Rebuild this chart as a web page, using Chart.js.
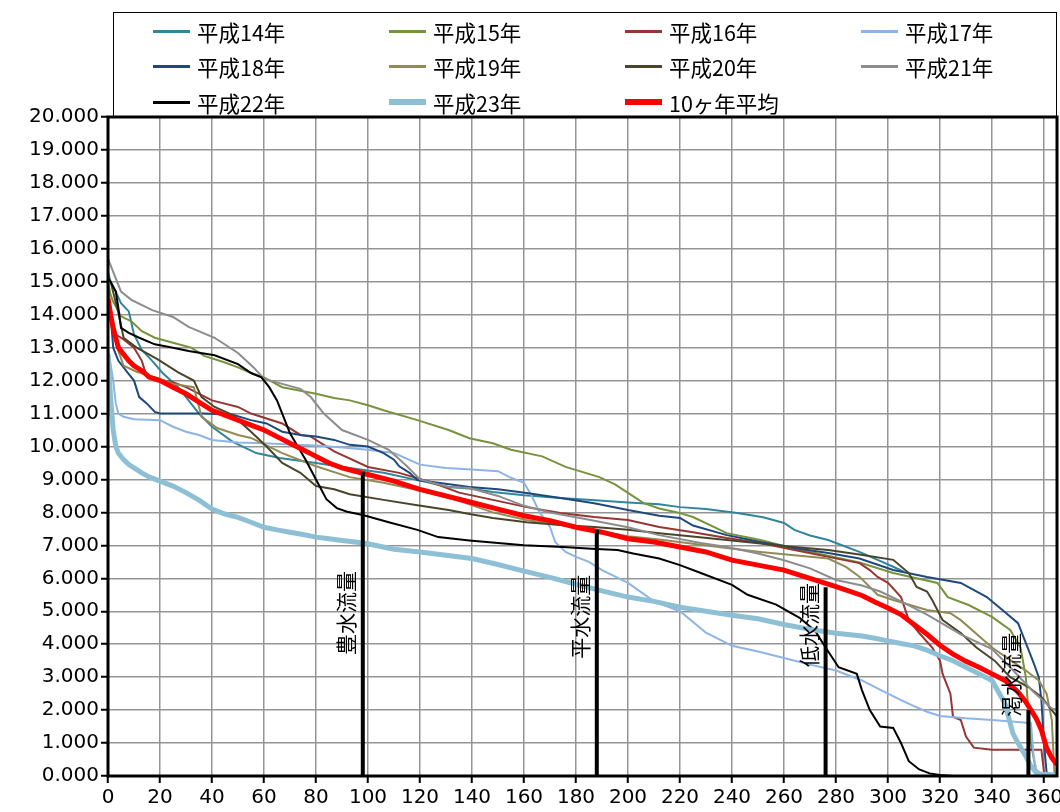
<!DOCTYPE html>
<html lang="ja">
<head>
<meta charset="utf-8">
<title>流況曲線</title>
<script src="https://cdn.jsdelivr.net/npm/chart.js@4.4.1/dist/chart.umd.min.js"></script>
<style>
  html, body { margin: 0; padding: 0; background: #fff; }
  #wrap { position: relative; width: 1060px; height: 812px; }
  #legend {
    position: absolute; left: 113px; top: 12px; width: 944px; height: 106px;
    border: 1px solid #000; border-bottom: none; box-sizing: border-box;
  }
  .item {
    position: absolute; height: 24px; display: flex; align-items: center;
    font-family: "Noto Sans CJK JP", sans-serif; font-size: 21.5px; color: #000; white-space: nowrap;
  }
  .item .swatch { display: inline-block; width: 37px; margin-right: 7px; }
</style>
</head>
<body>
<div id="wrap">
  <canvas id="chart" width="1060" height="812"></canvas>
  <div id="legend"></div>
</div>
<script>
// 流況曲線（日数 → 流量）
// 各系列は [日数, 流量] の組

const h14 = [[0,15.3],[1,15.0],[3,14.7],[5,14.35],[8,14.1],[10,13.4],[13,12.93],[17,12.6],[21,12.23],[27,11.8],[30,11.5],[35,11.0],[40,10.6],[48,10.14],[57,9.8],[66,9.65],[80,9.5],[97,9.3],[106,9.2],[119,8.98],[131,8.77],[140,8.72],[148,8.62],[160,8.52],[174,8.44],[186,8.38],[200,8.3],[212,8.25],[220,8.16],[230,8.1],[242,7.98],[252,7.85],[260,7.68],[264,7.47],[270,7.3],[277,7.16],[289,6.8],[296,6.56],[302,6.35],[306,6.2]];

const h15 = [[0,15.0],[1,14.6],[2,14.4],[5,13.95],[9,13.8],[13,13.5],[18,13.3],[25,13.15],[32,13.0],[37,12.75],[45,12.55],[50,12.4],[55,12.23],[60,12.1],[67,11.8],[80,11.6],[87,11.47],[93,11.4],[100,11.25],[106,11.1],[119,10.8],[131,10.5],[139,10.25],[148,10.1],[155,9.9],[167,9.7],[176,9.38],[189,9.07],[195,8.85],[200,8.59],[206,8.28],[212,8.12],[219,8.0],[225,7.86],[238,7.37],[251,7.16],[263,6.92],[276,6.7],[289,6.48],[302,6.16],[311,6.0],[319,5.86],[323,5.43],[331,5.19],[340,4.83],[347,4.43],[351,3.9],[353,3.0],[354,2.0],[355,1.0],[357,0.1],[359,0.02],[365,0.02]];

const h16 = [[0,14.4],[1,14.0],[3,13.4],[6,13.25],[10,13.0],[13,12.6],[15,12.1],[25,11.95],[30,11.8],[40,11.4],[50,11.2],[55,11.0],[67,10.7],[74,10.35],[78,10.3],[87,9.85],[100,9.38],[112,9.2],[125,8.9],[135,8.6],[148,8.38],[161,8.16],[174,7.98],[187,7.86],[200,7.77],[212,7.56],[225,7.4],[238,7.22],[251,7.07],[264,6.86],[277,6.65],[289,6.46],[293,6.25],[296,6.04],[300,5.86],[305,5.43],[308,4.73],[312,4.34],[317,3.9],[320,3.5],[321,3.1],[324,2.5],[325,1.8],[328,1.7],[330,1.2],[333,0.86],[340,0.8],[359,0.8],[360,0.1],[362,0.02],[365,0.02]];

const h17 = [[0,13.0],[1,12.5],[2,12.0],[3,11.3],[4,11.0],[6,10.9],[10,10.83],[20,10.8],[25,10.6],[30,10.45],[35,10.35],[40,10.2],[50,10.12],[60,10.1],[70,10.06],[80,10.03],[90,9.97],[100,9.9],[110,9.8],[120,9.45],[130,9.35],[140,9.3],[150,9.25],[155,9.05],[160,8.9],[163,8.5],[166,8.0],[170,7.56],[172,7.1],[176,6.8],[180,6.65],[185,6.5],[190,6.25],[200,5.86],[210,5.3],[220,5.0],[230,4.35],[240,3.95],[250,3.78],[260,3.58],[270,3.38],[280,3.2],[290,2.9],[295,2.7],[300,2.5],[305,2.3],[310,2.12],[315,1.95],[320,1.82],[330,1.75],[340,1.7],[350,1.64],[355,1.6],[356,0.6],[357,0.2],[359,0.05],[365,0.02]];

const h18 = [[0,14.8],[1,14.0],[2,13.0],[4,12.6],[8,12.2],[10,12.0],[12,11.5],[15,11.3],[18,11.05],[20,11.0],[37,11.0],[48,10.96],[55,10.8],[61,10.7],[67,10.45],[74,10.35],[80,10.3],[87,10.2],[93,10.05],[100,10.0],[106,9.8],[110,9.6],[112,9.4],[116,9.2],[119,8.98],[127,8.9],[139,8.77],[150,8.7],[161,8.59],[174,8.44],[187,8.28],[200,8.07],[212,7.9],[220,7.83],[225,7.6],[238,7.31],[251,7.1],[264,6.92],[277,6.77],[289,6.6],[302,6.25],[315,6.04],[328,5.86],[338,5.43],[344,5.04],[350,4.64],[353,4.04],[356,3.43],[358,3.0],[359,2.3],[360,1.0],[361,0.1],[363,0.02],[365,0.02]];

const h19 = [[0,14.6],[1,14.2],[3,13.2],[4,12.9],[6,12.45],[11,12.27],[18,12.1],[25,11.9],[33,11.8],[36,10.9],[42,10.56],[50,10.35],[55,10.26],[67,9.8],[80,9.4],[93,9.07],[106,8.9],[119,8.68],[135,8.35],[148,8.0],[161,7.77],[174,7.62],[187,7.47],[200,7.28],[212,7.18],[225,7.05],[238,6.92],[251,6.8],[264,6.7],[277,6.6],[284,6.34],[289,6.05],[296,5.5],[302,5.34],[315,5.04],[324,4.94],[328,4.73],[340,3.9],[353,3.2],[358,2.9],[361,2.5],[363,1.7],[364,0.1],[365,0.05]];

const h20 = [[0,15.1],[1,15.0],[4,14.05],[6,13.3],[11,13.0],[19,12.65],[27,12.25],[33,12.0],[36,11.5],[41,11.2],[48,10.95],[55,10.45],[61,10.0],[67,9.5],[74,9.2],[80,8.8],[87,8.7],[93,8.55],[106,8.38],[119,8.22],[131,8.07],[139,7.95],[148,7.83],[161,7.7],[174,7.62],[187,7.56],[200,7.47],[212,7.37],[220,7.31],[238,7.16],[264,6.95],[277,6.86],[289,6.72],[302,6.56],[308,6.16],[311,5.74],[315,5.6],[317,5.34],[321,4.73],[328,4.34],[334,3.9],[341,3.5],[347,3.0],[354,2.7],[359,2.4],[364,1.9],[365,1.8]];

const h21 = [[0,15.7],[1,15.5],[3,15.1],[5,14.7],[9,14.45],[17,14.14],[25,13.93],[31,13.63],[41,13.3],[50,12.84],[56,12.4],[60,12.05],[67,11.9],[74,11.75],[78,11.5],[83,11.0],[90,10.5],[100,10.2],[108,9.9],[115,9.4],[120,9.0],[131,8.77],[139,8.74],[150,8.5],[160,8.2],[170,8.0],[180,7.85],[190,7.7],[200,7.55],[212,7.31],[228,7.07],[238,6.95],[250,6.75],[260,6.55],[270,6.3],[280,5.95],[290,5.78],[297,5.6],[305,5.3],[315,4.9],[328,4.3],[340,3.85],[347,3.3],[356,2.55],[363,2.05],[365,2.0]];

const h22 = [[0,15.1],[1,15.0],[3,14.7],[4,14.2],[5,13.6],[8,13.45],[12,13.3],[18,13.1],[25,13.0],[31,12.9],[41,12.77],[50,12.5],[55,12.23],[59,12.1],[62,11.8],[65,11.4],[68,10.8],[70,10.4],[73,10.0],[76,9.6],[80,9.0],[84,8.4],[88,8.13],[92,8.02],[98,7.92],[108,7.7],[119,7.47],[127,7.25],[139,7.15],[150,7.07],[160,7.0],[175,6.95],[186,6.9],[196,6.86],[202,6.75],[212,6.6],[220,6.4],[228,6.16],[240,5.8],[246,5.5],[257,5.2],[266,4.8],[272,4.4],[276,3.9],[281,3.3],[288,3.1],[290,2.6],[293,2.0],[297,1.5],[302,1.46],[305,1.0],[308,0.45],[312,0.2],[316,0.08],[320,0.03],[325,0],[365,0]];

const h23 = [[0,12.8],[1,11.5],[2,10.5],[3,10.0],[4,9.8],[6,9.6],[8,9.45],[10,9.35],[13,9.2],[16,9.07],[20,8.95],[25,8.8],[30,8.6],[35,8.37],[40,8.1],[45,7.95],[50,7.85],[55,7.7],[60,7.55],[65,7.47],[70,7.4],[75,7.33],[80,7.25],[85,7.2],[90,7.15],[95,7.1],[100,7.05],[110,6.88],[120,6.8],[130,6.7],[140,6.6],[150,6.42],[160,6.22],[170,6.03],[180,5.82],[190,5.62],[200,5.43],[210,5.3],[220,5.12],[230,5.0],[240,4.88],[250,4.77],[260,4.6],[270,4.45],[280,4.33],[290,4.25],[295,4.18],[300,4.1],[305,4.02],[310,3.95],[315,3.82],[320,3.65],[325,3.5],[330,3.3],[335,3.1],[340,2.9],[345,2.2],[348,1.3],[350,1.0],[353,0.6],[355,0.3],[357,0.1],[359,0.05],[365,0.03]];

const avg10 = [[0,14.5],[1,14.0],[2,13.6],[3,13.3],[4,13.0],[6,12.8],[8,12.6],[10,12.45],[13,12.3],[16,12.1],[20,12.0],[25,11.8],[30,11.6],[35,11.35],[40,11.1],[45,10.95],[50,10.8],[55,10.65],[60,10.5],[65,10.3],[70,10.1],[75,9.9],[80,9.7],[85,9.5],[90,9.35],[95,9.25],[100,9.15],[110,8.95],[120,8.7],[130,8.5],[140,8.3],[150,8.1],[160,7.9],[170,7.75],[180,7.55],[190,7.4],[200,7.2],[210,7.1],[220,6.95],[230,6.8],[240,6.55],[250,6.4],[260,6.25],[270,6.0],[280,5.75],[290,5.48],[295,5.28],[300,5.1],[305,4.9],[310,4.6],[315,4.3],[320,3.97],[325,3.7],[330,3.48],[335,3.3],[340,3.1],[345,2.9],[350,2.55],[353,2.25],[355,2.0],[357,1.75],[359,1.4],[361,0.85],[363,0.55],[365,0.35]];

const seriesNames = ['平成14年', '平成15年', '平成16年', '平成17年', '平成18年', '平成19年', '平成20年', '平成21年', '平成22年', '平成23年', '10ヶ年平均'];
const seriesData = [h14, h15, h16, h17, h18, h19, h20, h21, h22, h23, avg10];
const seriesColors = ['#31859C', '#77933C', '#953735', '#8EB4E3', '#1F497D', '#948A54', '#4A452A', '#8C8C8C', '#000000', '#8DC0D4', '#FF0000'];
const seriesWidths = [2, 2, 2, 2, 2, 2, 2, 2, 2, 5, 5];

// 豊水・平水・低水・渇水流量の縦線
const markerNames = ['豊水流量', '平水流量', '低水流量', '渇水流量'];
const markerDays = [98, 188, 276, 354];
const markerFlows = [9.22, 7.47, 5.73, 2.0];
const markerLabelY = [4.95, 4.83, 4.58, 3.07]; // ラベル中心の高さ

const xTicks = [0, 20, 40, 60, 80, 100, 120, 140, 160, 180, 200, 220, 240, 260, 280, 300, 320, 340, 360];
const yTicks = [0, 1, 2, 3, 4, 5, 6, 7, 8, 9, 10, 11, 12, 13, 14, 15, 16, 17, 18, 19, 20];

// 凡例（HTML）
const legendBox = document.getElementById('legend');
seriesNames.forEach(function(name, i) {
    const col = i % 4;
    const row = Math.floor(i / 4);
    const item = document.createElement('div');
    item.className = 'item';
    item.style.left = (39 + col * 236) + 'px';
    item.style.top = (6 + row * 35.5) + 'px';
    const sw = document.createElement('span');
    sw.className = 'swatch';
    sw.style.height = (seriesWidths[i] > 2 ? 6 : 3) + 'px';
    sw.style.background = seriesColors[i];
    item.appendChild(sw);
    item.appendChild(document.createTextNode(name));
    legendBox.appendChild(item);
});

const datasets = seriesData.map(function(pts, i) {
    return {
        label: seriesNames[i],
        data: pts.map(function(p) { return { x: p[0], y: p[1] }; }),
        borderColor: seriesColors[i],
        borderWidth: seriesWidths[i],
        pointRadius: 0,
        fill: false,
        tension: 0,
        order: 100 - i
    };
});

markerDays.forEach(function(d, i) {
    datasets.push({
        label: markerNames[i],
        data: [{ x: d, y: 0 }, { x: d, y: markerFlows[i] }],
        borderColor: '#000',
        borderWidth: 4,
        pointRadius: 0,
        fill: false,
        order: 1
    });
});

// 枠線
const framePlugin = {
    id: 'frame',
    afterDatasetsDraw: function(chart) {
        const ctx = chart.ctx;
        const a = chart.chartArea;
        ctx.save();
        ctx.strokeStyle = '#000';
        ctx.lineWidth = 3;
        ctx.strokeRect(a.left, a.top, a.right - a.left, a.bottom - a.top);
        ctx.restore();
    }
};

// 縦書きラベル
const markerLabelPlugin = {
    id: 'markerLabels',
    afterDatasetsDraw: function(chart) {
        const ctx = chart.ctx;
        const xs = chart.scales.x;
        const ys = chart.scales.y;
        ctx.save();
        ctx.fillStyle = '#000';
        ctx.font = '21px "Noto Sans CJK JP", sans-serif';
        ctx.textAlign = 'center';
        ctx.textBaseline = 'middle';
        markerNames.forEach(function(name, i) {
            const px = xs.getPixelForValue(markerDays[i]) - 17;
            const py = ys.getPixelForValue(markerLabelY[i]);
            ctx.save();
            ctx.translate(px, py);
            ctx.rotate(-Math.PI / 2);
            ctx.fillText(name, 0, 0);
            ctx.restore();
        });
        ctx.restore();
    }
};

const tickFont = { family: '"DejaVu Sans", sans-serif', size: 20 };

new Chart(document.getElementById('chart'), {
    type: 'line',
    data: { datasets: datasets },
    options: {
        responsive: false,
        animation: false,
        layout: { padding: { top: 117, right: 3, left: 0, bottom: 0 } },
        plugins: {
            legend: { display: false },
            tooltip: { enabled: false }
        },
        scales: {
            x: {
                type: 'linear',
                min: 0,
                max: 365,
                afterBuildTicks: function(s) { s.ticks = xTicks.map(function(v) { return { value: v }; }); },
                afterFit: function(s) {
                    s.height = 36;
                    s.paddingLeft = 0;
                    s.paddingRight = 0;
                },
                border: { display: false },
                grid: { color: '#959595', lineWidth: 1.5, tickLength: 7, tickColor: '#000', tickWidth: 2 },
                ticks: { color: '#000', font: tickFont, padding: 3, maxRotation: 0, autoSkip: false }
            },
            y: {
                min: 0,
                max: 20,
                afterBuildTicks: function(s) { s.ticks = yTicks.map(function(v) { return { value: v }; }); },
                afterFit: function(s) {
                    s.width = 108;
                    s.paddingTop = 0;
                    s.paddingBottom = 0;
                },
                border: { display: false },
                grid: { color: '#959595', lineWidth: 1.5, tickLength: 7, tickColor: '#000', tickWidth: 2 },
                ticks: {
                    color: '#000', font: tickFont, padding: 2, autoSkip: false,
                    callback: function(v) { return v.toFixed(3); }
                }
            }
        }
    },
    plugins: [framePlugin, markerLabelPlugin]
});
</script>
</body>
</html>
